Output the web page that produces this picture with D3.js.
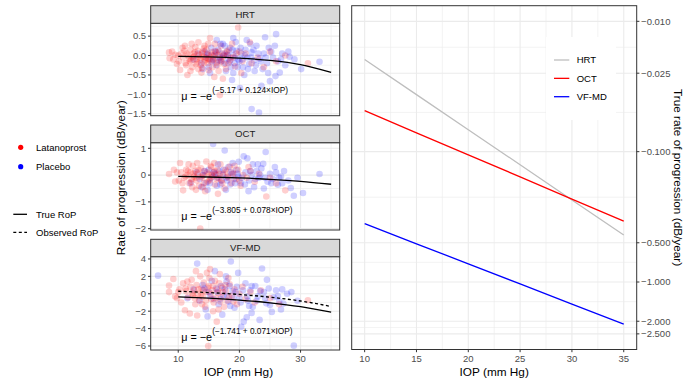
<!DOCTYPE html>
<html><head><meta charset="utf-8">
<script src="https://cdn.jsdelivr.net/npm/d3@7"></script>
<style>body{margin:0;background:#fff} text{font-family:"Liberation Sans",Arial,Helvetica,sans-serif}</style>
</head><body><svg id="c" width="691" height="384"></svg>
<script>
// ---------------- DATA ----------------
const iop = [10, 15, 20, 25, 30, 35];
const hrtTrue = [-0.0196, -0.0365, -0.0679, -0.126, -0.235, -0.436];
const octTrue = [-0.0485, -0.0717, -0.106, -0.156, -0.231, -0.341];
const vfTrue = [-0.357, -0.509, -0.725, -1.035, -1.476, -2.104];
const vfObserved = [0.29, 0.14, -0.08, -0.39, -0.83, -1.46];

const panelNames = ["HRT", "OCT", "VF-MD"];
const formulaText = ["(\u22125.17 + 0.124\u00D7IOP)", "(\u22123.805 + 0.078\u00D7IOP)", "(\u22121.741 + 0.071\u00D7IOP)"];
const formulaPos = [[10.5, -1.14], [10.5, -1.67], [10.5, -5.37]];

const hrtLatanoprost = [[8.5,0.08],[8.6,-0.07],[9.2,-0.1],[9.5,0.02],[10.1,-0.15],[10.3,-0.37],[10.5,0.05],[10.8,-0.05],[11.0,0.12],[11.2,-0.2],[11.5,-0.5],[11.6,0.0],[11.8,-0.08],[12.0,0.15],[12.1,-0.12],[12.3,-0.3],[12.5,0.05],[12.6,-0.02],[12.8,0.22],[13.0,-0.1],[13.1,-0.18],[13.3,0.34],[13.4,0.02],[13.5,-0.05],[13.7,-0.25],[13.8,-0.44],[14.0,0.1],[14.1,-0.03],[14.2,0.18],[14.4,-0.12],[14.5,-0.06],[14.7,0.04],[14.8,-0.2],[15.0,0.0],[15.1,-0.1],[15.2,0.45],[15.3,-0.15],[15.5,0.08],[15.6,-0.3],[15.8,-0.02],[16.0,0.12],[16.1,-0.08],[16.3,-0.18],[16.5,0.02],[16.8,-1.02],[16.9,-0.1],[17.0,0.25],[17.2,-0.05],[17.5,-0.22],[17.6,0.05],[17.8,-0.35],[18.0,0.0],[18.3,0.15],[18.5,-0.12],[19.0,-0.05],[19.3,-0.28],[19.8,0.72],[20.0,0.1],[20.5,-0.15],[21.0,0.05],[21.7,0.34],[22.0,-0.2],[23.0,-0.05],[24.0,-0.3],[25.0,0.1],[26.0,-0.15],[27.5,0.0],[31.2,-0.2],[12.2,0.3],[13.9,-0.32],[14.9,0.3],[16.6,-0.4],[11.3,-0.25],[10.7,0.2],[9.8,-0.22],[15.9,-0.55],[18.8,0.3],[17.3,-0.6],[20.3,-0.45],
  [11.4,0.05],[11.9,-0.15],[12.4,-0.05],[12.7,0.08],[12.9,-0.22],[13.2,0.12],[13.6,-0.1],[13.9,0.05],[14.2,-0.18],[14.6,0.15],[14.9,-0.08],[15.4,0.02],[15.7,-0.12],[16.2,0.08],[16.4,-0.25],[16.7,0.1],[17.1,-0.15],[17.4,0.0],[17.9,0.1],[18.2,-0.2],[12.0,-0.4],[13.3,-0.35],[14.3,0.25],[15.0,-0.38],[16.0,0.3],[10.0,0.0],[9.0,0.1],[11.1,0.25],[18.6,-0.05],[19.5,0.05]];
const hrtPlacebo = [[12.5,-0.1],[13.2,0.05],[13.8,-0.2],[14.3,0.1],[14.6,-0.05],[15.0,-0.3],[15.4,0.2],[15.7,-0.1],[16.0,0.02],[16.2,-0.25],[16.5,0.15],[16.8,-0.05],[17.0,-0.15],[17.3,0.3],[17.5,0.0],[17.8,-0.4],[18.0,0.1],[18.2,-0.08],[18.5,0.2],[18.8,-0.63],[19.0,0.0],[19.2,-0.2],[19.5,0.12],[19.8,-0.1],[20.1,-0.84],[20.3,0.05],[20.6,-0.3],[21.0,0.15],[21.3,-0.05],[21.6,-0.22],[22.0,-1.38],[22.0,0.08],[22.4,-0.12],[22.8,0.25],[23.2,-1.47],[23.3,-0.08],[23.6,-0.78],[24.0,0.05],[24.2,0.47],[24.5,-0.2],[25.0,-0.66],[25.2,0.1],[25.5,-0.05],[25.9,-0.53],[26.0,0.55],[26.3,-0.15],[26.6,-0.44],[27.0,0.05],[27.5,-0.25],[28.2,-0.03],[29.0,-0.1],[30.1,-0.35],[33.1,-0.16],[16.3,0.4],[19.4,0.35],[21.8,0.3],[18.6,-0.3],[20.8,-0.5],[23.8,-0.35],[15.2,-0.45],[17.6,0.25],[14.0,-0.35],[24.8,0.2],[20.0,-0.15],[22.5,-0.4],[19.0,0.45],
  [15.5,-0.15],[16.1,0.1],[16.7,-0.12],[17.2,0.05],[17.7,-0.2],[18.1,0.02],[18.4,-0.15],[18.9,0.15],[19.3,-0.05],[19.7,-0.3],[20.2,0.2],[20.5,-0.1],[20.9,0.0],[21.4,-0.35],[21.9,-0.05],[22.3,0.15],[22.7,-0.25],[23.1,0.05],[23.5,-0.15],[24.3,-0.05],[14.9,0.05],[16.9,0.3],[19.0,-0.45],[21.2,0.4],[24.7,-0.45],[26.8,-0.1],[28.0,0.1],[25.8,0.25]];

const octLatanoprost = [[8.5,0.04],[9.5,-0.24],[10.3,0.45],[10.5,0.1],[10.8,-0.57],[11.0,-0.1],[11.3,0.2],[11.5,0.0],[11.8,-0.3],[12.0,0.1],[12.2,-0.15],[12.4,0.35],[12.6,-0.05],[12.8,0.15],[13.0,-0.2],[13.2,0.05],[13.4,-0.4],[13.6,-2.0],[13.7,0.25],[13.9,-0.1],[14.1,0.0],[14.3,0.15],[14.6,0.51],[14.8,-0.25],[15.0,0.05],[15.2,-0.15],[15.4,0.3],[15.6,-0.05],[15.8,0.1],[16.0,-0.35],[16.2,0.0],[16.4,0.2],[16.6,-0.12],[16.9,0.4],[17.1,-0.2],[17.3,0.05],[17.6,-0.5],[17.9,0.12],[18.1,-0.05],[18.4,0.32],[18.7,-0.3],[19.0,0.05],[19.4,-0.15],[19.8,0.2],[20.2,-0.4],[20.6,0.0],[21.2,-0.1],[21.8,0.15],[22.5,-0.25],[23.2,0.05],[24.4,-0.8],[25.0,-0.1],[26.0,-0.3],[27.5,-0.57],[12.9,-0.55],[14.4,-0.6],[11.7,0.4],[15.9,0.45],[10.1,-0.2],[9.8,0.1],[16.5,-0.7],[19.2,0.35],
  [11.2,-0.05],[11.6,0.15],[12.1,-0.25],[12.5,0.05],[12.9,-0.1],[13.3,0.2],[13.8,-0.05],[14.2,-0.3],[14.7,0.1],[15.1,-0.2],[15.5,0.0],[16.0,0.15],[16.3,-0.15],[16.8,0.05],[17.2,-0.3],[17.7,0.2],[18.2,-0.1],[18.9,0.1],[13.1,0.45],[14.0,-0.45],[15.3,0.35],[10.7,-0.3],[9.3,0.2],[12.3,-0.45],[20.0,-0.2],[21.5,0.3]];
const octPlacebo = [[12.0,-0.3],[13.0,0.1],[13.5,-0.15],[14.0,0.0],[14.5,-0.3],[15.0,0.2],[15.4,-0.1],[15.7,1.16],[16.0,0.05],[16.3,-0.4],[16.7,0.15],[17.0,-0.2],[17.3,0.0],[17.6,0.92],[17.9,-0.1],[18.2,0.3],[18.5,-0.35],[18.8,0.05],[19.1,-0.15],[19.5,0.2],[19.8,-0.05],[20.2,-0.3],[20.7,0.7],[21.0,0.1],[21.3,0.63],[21.6,-0.2],[22.0,0.0],[22.4,-0.45],[22.8,0.15],[23.2,-0.1],[23.6,0.25],[23.9,0.42],[24.3,0.86],[24.6,-0.25],[25.0,0.05],[25.5,-0.15],[26.0,0.1],[26.3,-0.36],[26.8,-0.05],[27.3,0.15],[28.0,-0.2],[28.4,-0.48],[28.9,-0.77],[29.5,-0.1],[30.4,-0.67],[33.1,0.04],[19.9,0.5],[22.2,0.4],[17.8,-0.55],[21.5,-0.6],[24.0,-0.5],[25.8,0.3],[16.5,0.4],[14.8,-0.55],
  [15.2,-0.3],[15.8,0.1],[16.4,-0.1],[16.9,-0.35],[17.4,0.2],[18.0,-0.2],[18.6,0.1],[19.3,-0.3],[19.7,0.05],[20.4,-0.1],[20.9,-0.35],[21.8,0.15],[22.6,-0.15],[23.4,0.0],[24.2,-0.1],[25.2,-0.3],[26.5,-0.1],[13.8,-0.45],[14.3,0.15],[18.9,0.45],[27.0,-0.3],[23.0,0.4]];

const vfLatanoprost = [[8.5,0.94],[8.5,0.19],[9.2,1.7],[9.8,-0.5],[10.2,0.5],[10.5,-1.0],[10.8,1.2],[11.1,-1.9],[11.3,0.3],[11.6,-0.4],[11.9,-2.26],[12.0,0.8],[12.2,1.6],[12.4,-0.2],[12.6,0.4],[12.8,-1.2],[13.0,1.0],[13.2,0.0],[13.4,-0.7],[13.6,2.0],[13.8,0.6],[14.0,-0.3],[14.2,1.3],[14.4,-1.5],[14.6,0.2],[14.9,-6.0],[15.0,0.9],[15.2,2.83],[15.4,-0.6],[15.6,0.4],[15.8,-1.0],[16.0,1.5],[16.3,-3.2],[16.5,0.1],[16.8,2.26],[17.0,-0.4],[17.2,0.7],[17.5,-1.5],[17.8,0.3],[18.0,-0.8],[18.4,1.1],[18.8,-0.2],[19.2,0.5],[19.6,-1.2],[20.0,0.0],[20.5,0.8],[21.0,-0.6],[21.8,0.2],[22.5,-1.0],[23.5,0.4],[25.0,-0.5],[26.5,-1.2],[31.2,-0.75],[13.1,-2.5],[14.7,2.4],[12.9,2.6],[15.7,-2.0],[11.5,1.4],[16.6,-1.8],[18.2,1.8],
  [12.3,0.1],[12.7,-0.5],[13.3,0.5],[13.7,-0.2],[14.1,0.4],[14.5,-0.8],[14.8,0.7],[15.3,0.0],[15.7,0.9],[16.1,-0.5],[16.4,0.5],[16.9,-0.9],[17.3,0.2],[17.7,1.0],[18.3,-0.4],[11.2,0.6],[10.0,0.2],[9.5,-0.3],[13.9,-1.2],[15.1,1.8],[16.7,1.2],[19.0,-0.9]];
const vfPlacebo = [[6.7,2.08],[11.5,-0.5],[12.5,0.5],[13.1,3.47],[13.5,-0.8],[14.0,1.0],[14.5,-1.8],[15.0,0.2],[15.5,1.5],[15.8,-0.6],[16.2,0.6],[16.6,-1.2],[17.0,0.9],[17.4,-0.2],[17.8,2.0],[18.2,-0.9],[18.6,3.7],[18.9,0.3],[19.2,-1.6],[19.6,0.8],[20.0,-0.4],[20.3,-3.8],[20.7,-3.2],[21.0,1.2],[21.4,-0.8],[21.8,0.4],[22.2,-1.5],[22.6,0.9],[23.0,-0.3],[23.3,-3.0],[23.7,2.9],[24.0,0.2],[24.4,-1.1],[24.8,0.6],[25.3,-2.08],[25.6,-0.4],[26.0,0.4],[26.5,-0.9],[27.2,-1.13],[27.8,0.0],[28.5,0.19],[28.9,-5.96],[29.5,-0.8],[17.2,-2.4],[19.8,2.4],[22.0,-2.2],[16.0,2.6],[24.5,1.6],[21.2,-2.7],[14.8,-2.6],[26.8,-1.8],
  [15.2,-0.3],[16.4,0.2],[16.9,-0.6],[17.6,0.5],[18.0,-0.2],[18.4,0.9],[19.0,-0.5],[19.4,0.2],[20.2,-1.0],[20.6,0.4],[21.3,-0.3],[22.0,0.9],[22.8,-0.8],[23.4,0.3],[24.2,-0.5],[25.0,-1.3],[26.3,-0.3],[27.0,0.5],[18.5,-1.4],[14.3,0.6],[17.9,1.4],[21.6,-1.4]];

const leftXTicks = [10, 20, 30];
const hrtYTicks = [0.5, 0.0, -0.5, -1.0, -1.5];
const octYTicks = [1, 0, -1, -2];
const vfYTicks = [4, 2, 0, -2, -4, -6];
const rightXTicks = [10, 15, 20, 25, 30, 35];
const rightYTicks = [-0.010, -0.025, -0.100, -0.500, -1.000, -2.000, -2.500];
const legendGroups = ["Latanoprost", "Placebo"];
const legendLines = ["True RoP", "Observed RoP"];

// ---------------- STYLE / LAYOUT ----------------
const svg = d3.select("#c");
const GRID = "#ebebeb", BORDER = "#333333", TICKTXT = "#4d4d4d";
const RED = "#ff0000", BLUE = "#0000ff", GREYLINE = "#bebebe";
const minus = s => s.replace(/-/g, "\u2212");

const L = {x0: 150.7, x1: 339.7};
const panels = [
  {name: panelNames[0], strip: [5.7, 23.3], y: [23.3, 115.7], dom: [-1.55, 0.83], ticks: hrtYTicks, fmt: d3.format(".1f"), red: hrtLatanoprost, blue: hrtPlacebo, truth: hrtTrue},
  {name: panelNames[1], strip: [125.0, 142.7], y: [142.7, 230.0], dom: [-2.05, 1.21], ticks: octYTicks, fmt: d3.format("d"), red: octLatanoprost, blue: octPlacebo, truth: octTrue},
  {name: panelNames[2], strip: [239.3, 256.7], y: [256.7, 350.0], dom: [-6.46, 4.26], ticks: vfYTicks, fmt: d3.format("d"), red: vfLatanoprost, blue: vfPlacebo, truth: vfTrue, obs: vfObserved}
];
const xL = d3.scaleLinear().domain([5.5, 36.4]).range([L.x0, L.x1]);

function minorBetween(ticks, dom) {
  const t = ticks.slice().sort((a, b) => a - b);
  const step = t[1] - t[0];
  const out = [];
  for (let i = -1; i < t.length; i++) {
    const m = (i < 0 ? t[0] - step / 2 : t[i] + step / 2);
    if (m >= dom[0] && m <= dom[1]) out.push(m);
  }
  return out;
}

panels.forEach((p, i) => {
  const y = d3.scaleLinear().domain(p.dom).range([p.y[1], p.y[0]]);
  const g = svg.append("g");
  g.append("rect").attr("x", L.x0).attr("y", p.y[0]).attr("width", L.x1 - L.x0).attr("height", p.y[1] - p.y[0]).attr("fill", "#fff");
  minorBetween(p.ticks, p.dom).forEach(v => g.append("line").attr("x1", L.x0).attr("x2", L.x1).attr("y1", y(v)).attr("y2", y(v)).attr("stroke", GRID).attr("stroke-width", 0.6));
  minorBetween(leftXTicks, xL.domain()).forEach(v => g.append("line").attr("x1", xL(v)).attr("x2", xL(v)).attr("y1", p.y[0]).attr("y2", p.y[1]).attr("stroke", GRID).attr("stroke-width", 0.6));
  p.ticks.forEach(v => g.append("line").attr("x1", L.x0).attr("x2", L.x1).attr("y1", y(v)).attr("y2", y(v)).attr("stroke", GRID).attr("stroke-width", 1.1));
  leftXTicks.forEach(v => g.append("line").attr("x1", xL(v)).attr("x2", xL(v)).attr("y1", p.y[0]).attr("y2", p.y[1]).attr("stroke", GRID).attr("stroke-width", 1.1));

  const clipId = "clip" + i;
  svg.append("clipPath").attr("id", clipId).append("rect").attr("x", L.x0).attr("y", p.y[0]).attr("width", L.x1 - L.x0).attr("height", p.y[1] - p.y[0]);
  const pg = g.append("g").attr("clip-path", `url(#${clipId})`);
  const pts = [];
  const n = Math.max(p.red.length, p.blue.length);
  for (let k = 0; k < n; k++) {
    if (k < p.red.length) pts.push({d: p.red[k], c: RED});
    if (k < p.blue.length) pts.push({d: p.blue[k], c: BLUE});
  }
  pg.selectAll("circle").data(pts).join("circle")
    .attr("cx", d => xL(d.d[0])).attr("cy", d => y(d.d[1])).attr("r", 3.3)
    .attr("fill", d => d.c).attr("fill-opacity", 0.19);
  const line = d3.line().x((d, k) => xL(iop[k])).y(d => y(d)).curve(d3.curveMonotoneX);
  pg.append("path").attr("d", line(p.truth)).attr("fill", "none").attr("stroke", "#000").attr("stroke-width", 1.3);
  if (p.obs) pg.append("path").attr("d", line(p.obs)).attr("fill", "none").attr("stroke", "#000").attr("stroke-width", 1.3).attr("stroke-dasharray", "3,2.5");

  const t = g.append("text").attr("x", xL(formulaPos[i][0])).attr("y", y(formulaPos[i][1])).attr("font-size", 10.8).attr("fill", "#000");
  t.append("tspan").text("\u03BC = \u2212e");
  t.append("tspan").attr("dy", -6.5).attr("font-size", 8.3).text(formulaText[i]);

  g.append("rect").attr("x", L.x0).attr("y", p.y[0]).attr("width", L.x1 - L.x0).attr("height", p.y[1] - p.y[0]).attr("fill", "none").attr("stroke", BORDER).attr("stroke-width", 1);
  g.append("rect").attr("x", L.x0).attr("y", p.strip[0]).attr("width", L.x1 - L.x0).attr("height", p.strip[1] - p.strip[0]).attr("fill", "#d9d9d9").attr("stroke", BORDER).attr("stroke-width", 1);
  g.append("text").attr("x", (L.x0 + L.x1) / 2).attr("y", (p.strip[0] + p.strip[1]) / 2).attr("dy", "0.36em").attr("text-anchor", "middle").attr("font-size", 9.6).attr("fill", "#1a1a1a").text(p.name);

  p.ticks.forEach(v => {
    g.append("line").attr("x1", L.x0 - 2.7).attr("x2", L.x0).attr("y1", y(v)).attr("y2", y(v)).attr("stroke", BORDER).attr("stroke-width", 1);
    g.append("text").attr("x", L.x0 - 4.6).attr("y", y(v)).attr("dy", "0.35em").attr("text-anchor", "end").attr("font-size", 9.5).attr("fill", TICKTXT).text(minus(p.fmt(v)));
  });
  if (i === panels.length - 1) {
    leftXTicks.forEach(v => {
      g.append("line").attr("x1", xL(v)).attr("x2", xL(v)).attr("y1", p.y[1]).attr("y2", p.y[1] + 2.7).attr("stroke", BORDER).attr("stroke-width", 1);
      g.append("text").attr("x", xL(v)).attr("y", 361.5).attr("text-anchor", "middle").attr("font-size", 9.5).attr("fill", TICKTXT).text(v);
    });
  }
});

svg.append("text").attr("x", 238.5).attr("y", 375.5).attr("text-anchor", "middle").attr("font-size", 11.8).attr("fill", "#000").text("IOP (mm Hg)");
svg.append("text").attr("transform", "translate(125,177.8) rotate(-90)").attr("text-anchor", "middle").attr("font-size", 11.8).attr("fill", "#000").text("Rate of progression (dB/year)");

[[RED, 147.3], [BLUE, 166.7]].forEach((c, k) => {
  svg.append("circle").attr("cx", 20.7).attr("cy", c[1]).attr("r", 2.6).attr("fill", c[0]);
  svg.append("text").attr("x", 36).attr("y", c[1]).attr("dy", "0.35em").attr("font-size", 9.5).attr("fill", "#000").text(legendGroups[k]);
});
[[214.3, null], [232.3, "3,2.5"]].forEach((c, k) => {
  const ln = svg.append("line").attr("x1", 13.3).attr("x2", 27).attr("y1", c[0]).attr("y2", c[0]).attr("stroke", "#000").attr("stroke-width", 1.3);
  if (c[1]) ln.attr("stroke-dasharray", c[1]);
  svg.append("text").attr("x", 36).attr("y", c[0]).attr("dy", "0.35em").attr("font-size", 9.5).attr("fill", "#000").text(legendLines[k]);
});

// ---------------- RIGHT PANEL ----------------
const R = {x0: 351.7, x1: 636.7, y0: 5.7, y1: 349.5};
const xR = d3.scaleLinear().domain([8.75, 36.25]).range([R.x0, R.x1]);
const lo = Math.log10(0.01), hi = Math.log10(2.5), ex = 0.05 * (hi - lo);
const yR = d3.scaleLog().domain([Math.pow(10, lo - ex), Math.pow(10, hi + ex)]).range([R.y0, R.y1]);
const gr = svg.append("g");
gr.append("rect").attr("x", R.x0).attr("y", R.y0).attr("width", R.x1 - R.x0).attr("height", R.y1 - R.y0).attr("fill", "#fff");
const absT = rightYTicks.map(v => Math.abs(v));
for (let k = 0; k < absT.length - 1; k++) {
  const m = Math.pow(10, (Math.log10(absT[k]) + Math.log10(absT[k + 1])) / 2);
  gr.append("line").attr("x1", R.x0).attr("x2", R.x1).attr("y1", yR(m)).attr("y2", yR(m)).attr("stroke", GRID).attr("stroke-width", 0.6);
}
for (let k = 0; k < rightXTicks.length - 1; k++) {
  const m = (rightXTicks[k] + rightXTicks[k + 1]) / 2;
  gr.append("line").attr("x1", xR(m)).attr("x2", xR(m)).attr("y1", R.y0).attr("y2", R.y1).attr("stroke", GRID).attr("stroke-width", 0.6);
}
absT.forEach(v => gr.append("line").attr("x1", R.x0).attr("x2", R.x1).attr("y1", yR(v)).attr("y2", yR(v)).attr("stroke", GRID).attr("stroke-width", 1.1));
rightXTicks.forEach(v => gr.append("line").attr("x1", xR(v)).attr("x2", xR(v)).attr("y1", R.y0).attr("y2", R.y1).attr("stroke", GRID).attr("stroke-width", 1.1));

const series = [[hrtTrue, GREYLINE, panelNames[0]], [octTrue, RED, panelNames[1]], [vfTrue, BLUE, panelNames[2]]];
const rline = d3.line().x((d, k) => xR(iop[k])).y(d => yR(Math.abs(d)));
series.forEach(s => gr.append("path").attr("d", rline(s[0])).attr("fill", "none").attr("stroke", s[1]).attr("stroke-width", 1.3));

gr.append("rect").attr("x", 546).attr("y", 37).attr("width", 70).attr("height", 83).attr("fill", "#fff");
series.forEach((s, k) => {
  const yy = 60 + k * 18.35;
  gr.append("line").attr("x1", 554).attr("x2", 569.3).attr("y1", yy).attr("y2", yy).attr("stroke", s[1]).attr("stroke-width", 1.3);
  gr.append("text").attr("x", 576.7).attr("y", yy).attr("dy", "0.35em").attr("font-size", 9.5).attr("fill", "#000").text(s[2]);
});
gr.append("rect").attr("x", R.x0).attr("y", R.y0).attr("width", R.x1 - R.x0).attr("height", R.y1 - R.y0).attr("fill", "none").attr("stroke", BORDER).attr("stroke-width", 1);

rightYTicks.forEach(v => {
  const yy = yR(Math.abs(v));
  gr.append("line").attr("x1", R.x1).attr("x2", R.x1 + 2.7).attr("y1", yy).attr("y2", yy).attr("stroke", BORDER).attr("stroke-width", 1);
  gr.append("text").attr("x", R.x1 + 4.4).attr("y", yy).attr("dy", "0.35em").attr("font-size", 9.5).attr("fill", TICKTXT).text(minus(d3.format(".3f")(v)));
});
rightXTicks.forEach(v => {
  gr.append("line").attr("x1", xR(v)).attr("x2", xR(v)).attr("y1", R.y1).attr("y2", R.y1 + 2.7).attr("stroke", BORDER).attr("stroke-width", 1);
  gr.append("text").attr("x", xR(v)).attr("y", 361.5).attr("text-anchor", "middle").attr("font-size", 9.5).attr("fill", TICKTXT).text(v);
});
svg.append("text").attr("x", (R.x0 + R.x1) / 2).attr("y", 375.5).attr("text-anchor", "middle").attr("font-size", 11.8).attr("fill", "#000").text("IOP (mm Hg)");
svg.append("text").attr("transform", `translate(674,${(R.y0 + R.y1) / 2}) rotate(90)`).attr("text-anchor", "middle").attr("font-size", 11.8).attr("fill", "#000").text("True rate of progression (dB/year)");
</script></body></html>
